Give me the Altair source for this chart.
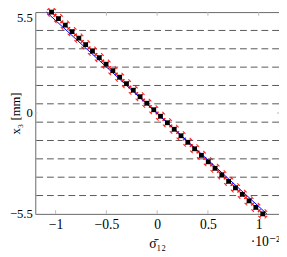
import altair as alt
import pandas as pd

# FE results (sigma_12 in units of 1e-2, x3 in mm)
pts_y = [5.5, 5.145, 4.790, 4.435, 4.081, 3.726, 3.371, 3.016, 2.661, 2.306,
         1.952, 1.597, 1.242, 0.887, 0.532, 0.177, -0.177, -0.532, -0.887,
         -1.242, -1.597, -1.952, -2.306, -2.661, -3.016, -3.371, -3.726,
         -4.081, -4.435, -4.790, -5.145, -5.5]
pts_x = [-1.040, -0.972, -0.905, -0.838, -0.771, -0.704, -0.637, -0.570,
         -0.503, -0.436, -0.369, -0.302, -0.235, -0.168, -0.101, -0.033,
         0.033, 0.101, 0.168, 0.235, 0.302, 0.369, 0.436, 0.503, 0.570,
         0.637, 0.704, 0.771, 0.838, 0.905, 0.972, 1.040]

# analytical line
line_x = [-1.09, 1.08]
line_y = [5.5, -5.5]

# layer interfaces
interfaces = [4.5, 3.5, 2.5, 1.5, 0.5, -0.5, -1.5, -2.5, -3.5, -4.5]

x_ticks = [-1, -0.5, 0, 0.5, 1]
y_ticks = [-5.5, 0, 5.5]

X_DOM = [-1.2, 1.2]
Y_DOM = [-5.5, 5.5]

pts = pd.DataFrame({"x": pts_x, "y": pts_y})
line_df = pd.DataFrame({"x": line_x, "y": line_y})
iface_df = pd.DataFrame({"y": interfaces})
xt_df = pd.DataFrame({"x": x_ticks})
yt_df = pd.DataFrame({"y": [0]})

FONT = "'Liberation Serif', 'DejaVu Serif', serif"

xs = alt.Scale(domain=X_DOM, nice=False, zero=False)
ys = alt.Scale(domain=Y_DOM, nice=False, zero=False)

xenc = alt.X("x:Q", scale=xs,
             axis=alt.Axis(values=x_ticks, format=".1~f", title="σ̄₁₂",
                           grid=False, ticks=False, domain=False,
                           labelPadding=4, titleY=34, labelFontSize=14,
                           titleBaseline="alphabetic"))
yenc = alt.Y("y:Q", scale=ys,
             axis=alt.Axis(values=y_ticks, format=".1~f", title="x₃ [mm]",
                           grid=False, ticks=False, domain=False,
                           labelPadding=3, titleX=-20, titleY=103.5,
                           titleBaseline="middle", labelFlush=False,
                           labelFontSize=13, titleFontSize=13,
                           labelBaseline={"condition": {"test": "datum.value > 5",
                                                        "value": "top"},
                                          "value": "middle"}))

dashed = alt.Chart(iface_df).mark_rule(
    color="#555555", strokeDash=[7, 4], strokeWidth=1
).encode(y=alt.Y("y:Q", scale=ys))

ticks_bottom = alt.Chart(xt_df).mark_rule(color="#bbbbbb", strokeWidth=1).encode(
    x=alt.X("x:Q", scale=xs), y=alt.datum(-5.5), y2=alt.datum(-5.3))
ticks_top = alt.Chart(xt_df).mark_rule(color="#bbbbbb", strokeWidth=1).encode(
    x=alt.X("x:Q", scale=xs), y=alt.datum(5.5), y2=alt.datum(5.3))
ticks_left = alt.Chart(yt_df).mark_rule(color="#bbbbbb", strokeWidth=1).encode(
    y=alt.Y("y:Q", scale=ys), x=alt.datum(-1.2), x2=alt.datum(-1.18))
ticks_right = alt.Chart(yt_df).mark_rule(color="#bbbbbb", strokeWidth=1).encode(
    y=alt.Y("y:Q", scale=ys), x=alt.datum(1.2), x2=alt.datum(1.18))

xshape = ("M-1,-1L1,1M-1,1L1,-1"
          "M0.6,1.4L1.4,0.6M-0.6,1.4L-1.4,0.6"
          "M0.6,-1.4L1.4,-0.6M-0.6,-1.4L-1.4,-0.6")
red = alt.Chart(pts).mark_point(
    shape=xshape, size=42, color="red", filled=False, strokeWidth=1.1, opacity=0.85
).encode(x=xenc, y=yenc)

line = alt.Chart(line_df).mark_line(color="blue", strokeWidth=1).encode(
    x=alt.X("x:Q", scale=xs), y=alt.Y("y:Q", scale=ys))

squares = alt.Chart(pts).mark_point(
    shape="square", size=24, color="black", filled=True, opacity=1
).encode(x=alt.X("x:Q", scale=xs), y=alt.Y("y:Q", scale=ys))

exp_txt = alt.Chart(pd.DataFrame({"t": ["·10⁻²"]})).mark_text(
    font=FONT, fontSize=14, align="left", baseline="top", dx=-29, dy=22,
    color="black"
).encode(x=alt.datum(1.2), y=alt.datum(-5.5), text="t:N")

chart = alt.layer(
    dashed, ticks_bottom, ticks_top, ticks_left, ticks_right,
    red, line, squares, exp_txt
).properties(
    width=250, height=207,
    autosize=alt.AutoSizeParams(type="none"),
    padding={"left": 28, "top": 1, "right": 0, "bottom": 40},
).configure_view(
    stroke="#666666", strokeWidth=1
).configure_axis(
    labelFont=FONT, titleFont=FONT, titleFontSize=14,
    labelColor="black", titleColor="black", titleFontWeight="normal"
)

chart.save("out.html", embed_options={"renderer": "svg", "actions": False})
